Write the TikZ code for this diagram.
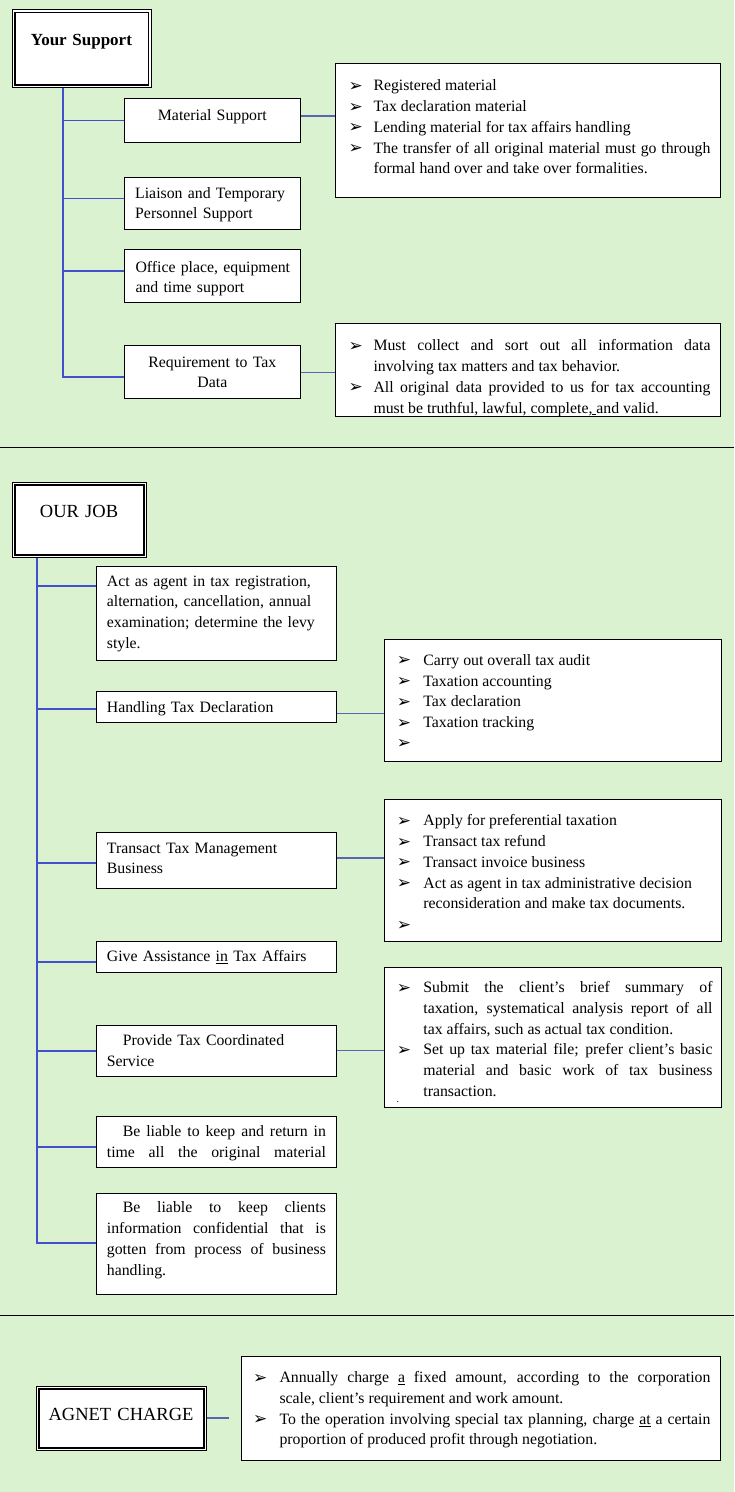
\documentclass[tikz,border=0pt]{standalone}
\usepackage{fontspec}
\setmainfont{Liberation Serif}
\newfontfamily\dejavu{DejaVu Sans}
\definecolor{bgc}{RGB}{218,242,208}
\definecolor{spine}{RGB}{66,80,205}
\definecolor{link}{RGB}{90,100,175}
\newlength{\bulind}
\newcommand{\bul}{{\dejavu\fontsize{17}{17}\selectfont\raisebox{-0.5pt}{➢}}}
\newcommand{\itm}{\par\noindent\hangindent=\bulind\hangafter=1\rule{0pt}{15pt}\makebox[\bulind][l]{\bul}}
\newcommand{\bx}[5]{\node[box,minimum width={#4-#2},minimum height={#5-#3}] (#1) at (#2,#3) {};}
\newcommand{\tx}[6][]{\node[txt,text width=#5,#1] (#2) at (#3,#4-15) {\rule{0pt}{15pt}#6};}
\newcommand{\lst}[6]{\node[txt,text width=#5,align=justify] (#1) at (#2,#3-15) {\setlength{\parskip}{0pt}\setlength{\bulind}{#4}#6\par};}
\newcommand{\dbl}[1]{\draw[inb] ([shift={(3,3)}]#1.north west) rectangle ([shift={(-3,-3)}]#1.south east);}
\tikzset{
 box/.style={draw=black,line width=0.9pt,fill=white,inner sep=0pt,anchor=north west},
 txt/.style={inner sep=0pt,anchor=north west,align=left,font=\fontsize{15.8}{20.75}\selectfont},
 ttl/.style={font=\fontsize{18.5}{22}\selectfont,align=center},
 spl/.style={draw=spine,line width=1.6pt},
 lnk/.style={draw=link,line width=1.6pt},
 sep/.style={draw=black,line width=1.3pt},
 inb/.style={draw=black,line width=1.6pt},
}
\begin{document}
\begin{tikzpicture}[x=1pt,y=-1pt]
\useasboundingbox (0,0) rectangle (734,1492);
\fill[bgc] (0,0) rectangle (734,1492);
% separators
\coordinate (sepAl) at (0,447.3); \coordinate (sepAr) at (734,447.3);
\coordinate (sepBl) at (0,1315.3); \coordinate (sepBr) at (734,1315.3);
\draw[sep] (sepAl) -- (sepAr);
\draw[sep] (sepBl) -- (sepBr);

% ---------- Section 1 ----------
\bx{ys}{11.7}{9.3}{150.7}{87.3}
\dbl{ys}
\bx{mat}{124}{98}{300.3}{141.7}
\bx{lia}{124}{176.7}{300.3}{228.7}
\bx{off}{124}{249.3}{300.3}{301.7}
\bx{req}{124}{345.3}{300.3}{398.3}
\bx{r1}{335}{63.3}{720}{197.3}
\bx{r2}{335}{323.3}{720}{416}

\tx[align=center,font=\fontsize{17}{20}\selectfont\bfseries]{tys}{11.7}{45}{139}{Your Support}
\tx[align=center]{tmat}{124}{120}{176.3}{Material Support}
\tx{tlia}{135}{198}{160}{Liaison and Temporary\\Personnel Support}
\tx{toff}{135.3}{272}{160}{Office place, equipment\\and time support}
\tx[align=center]{treq}{124}{367}{176.3}{Requirement to Tax\\Data}

\lst{tr1}{348.3}{85}{25pt}{362}{%
\itm Registered material
\itm Tax declaration material
\itm Lending material for tax affairs handling
\itm The transfer of all original material must go through\linebreak formal hand over and take over formalities.}
\lst{tr2}{348.3}{345}{25pt}{362}{%
\itm Must collect and sort out all information data\linebreak involving tax matters and tax behavior.
\itm All original data provided to us for tax accounting\linebreak must be truthful, lawful, complete,\underline{\ }and valid.}

\coordinate (s1) at (62.7,377);
\draw[spl] (ys.south -| s1) -- (s1) -- (req.west |- s1);
\draw[spl] (s1 |- mat.west) -- (mat.west);
\draw[spl] (s1 |- 0,198.5) -- (lia.west |- 0,198.5);
\draw[spl] (s1 |- 0,271) -- (off.west |- 0,271);
\draw[lnk] (mat.east |- 0,115.7) -- (r1.west |- 0,115.7);
\draw[lnk] (req.east |- 0,372.3) -- (r2.west |- 0,372.3);

% ---------- Section 2 ----------
\bx{oj}{11.7}{481.7}{146}{557}
\dbl{oj}
\bx{act}{96.3}{565.7}{336.3}{660.3}
\bx{hand}{96.3}{691}{336.3}{722.3}
\bx{ra}{384}{639.3}{720.5}{761}
\bx{trans}{96.3}{831.7}{336.3}{888}
\bx{rb}{384}{799.3}{720.5}{940.7}
\bx{give}{96.3}{940.7}{336.3}{972.3}
\bx{rc}{384}{967.3}{720.5}{1106.7}
\bx{prov}{96.3}{1024.7}{336.3}{1076.3}
\bx{bla}{96.3}{1115.7}{336.3}{1167.3}
\bx{blb}{96.3}{1192.7}{336.3}{1294}

\tx[ttl]{toj}{11.7}{517}{134.3}{OUR JOB}
\tx{tact}{106.7}{586}{226}{Act as agent in tax registration,\\alternation, cancellation, annual\\examination; determine the levy\\style.}
\tx{thand}{106.7}{712}{226}{Handling Tax Declaration}
\tx{ttrans}{106.7}{853}{226}{Transact Tax Management\\Business}
\tx{tgive}{106.7}{961.7}{226}{Give Assistance \underline{in} Tax Affairs}
\tx{tprov}{106.7}{1045.7}{226}{\hspace*{16pt}Provide Tax Coordinated\\Service}
\tx[align=justify]{tbla}{106.7}{1136.7}{219}{\hspace*{16pt}Be liable to keep and return in\linebreak time all the original material{\parfillskip=0pt\par}}
\tx[align=justify]{tblb}{106.7}{1212.7}{219}{\hspace*{16pt}Be liable to keep clients\linebreak information confidential that is\linebreak gotten from process of business\linebreak handling.}

\lst{tra}{396.7}{659.3}{26.5pt}{315.6}{%
\itm Carry out overall tax audit
\itm Taxation accounting
\itm Tax declaration
\itm Taxation tracking
\itm}
\lst{trb}{396.7}{820}{26.5pt}{315.6}{%
\itm Apply for preferential taxation
\itm Transact tax refund
\itm Transact invoice business
\itm Act as agent in tax administrative decision\newline reconsideration and make tax documents.
\itm}
\lst{trc}{396.7}{986.7}{26.5pt}{315.6}{%
\itm Submit the client’s brief summary of\linebreak taxation, systematical analysis report of all\linebreak tax affairs, such as actual tax condition.
\itm Set up tax material file; prefer client’s basic\linebreak material and basic work of tax business\linebreak transaction.}
\node[txt,font=\fontsize{10}{10}\selectfont,anchor=base west] (tdot) at (396.5,1102) {.};

\coordinate (s2) at (36.7,1242.7);
\draw[spl] (oj.south -| s2) -- (s2) -- (blb.west |- s2);
\draw[spl] (s2 |- 0,586) -- (act.west |- 0,586);
\draw[spl] (s2 |- 0,709) -- (hand.west |- 0,709);
\draw[spl] (s2 |- 0,862.7) -- (trans.west |- 0,862.7);
\draw[spl] (s2 |- 0,961.7) -- (give.west |- 0,961.7);
\draw[spl] (s2 |- 0,1050.7) -- (prov.west |- 0,1050.7);
\draw[spl] (s2 |- 0,1147) -- (bla.west |- 0,1147);
\draw[lnk] (hand.east |- 0,713.3) -- (ra.west |- 0,713.3);
\draw[lnk] (trans.east |- 0,857.7) -- (rb.west |- 0,857.7);
\draw[lnk] (prov.east |- 0,1050.3) -- (rc.west |- 0,1050.3);

% ---------- Section 3 ----------
\bx{ac}{35.7}{1385.7}{206}{1450}
\dbl{ac}
\bx{r3}{240.7}{1356}{719.7}{1460}
\tx[ttl]{tac}{35.7}{1420}{170.3}{AGNET CHARGE}
\lst{tr3}{253}{1376.7}{26.3pt}{457.3}{%
\itm Annually charge \underline{a} fixed amount, according to the corporation\linebreak scale, client’s requirement and work amount.
\itm To the operation involving special tax planning, charge \underline{at} a certain\linebreak proportion of produced profit through negotiation.}
\coordinate (acend) at (229.3,1418);
\draw[lnk] (ac.east |- acend) -- (acend);
\end{tikzpicture}
\end{document}
